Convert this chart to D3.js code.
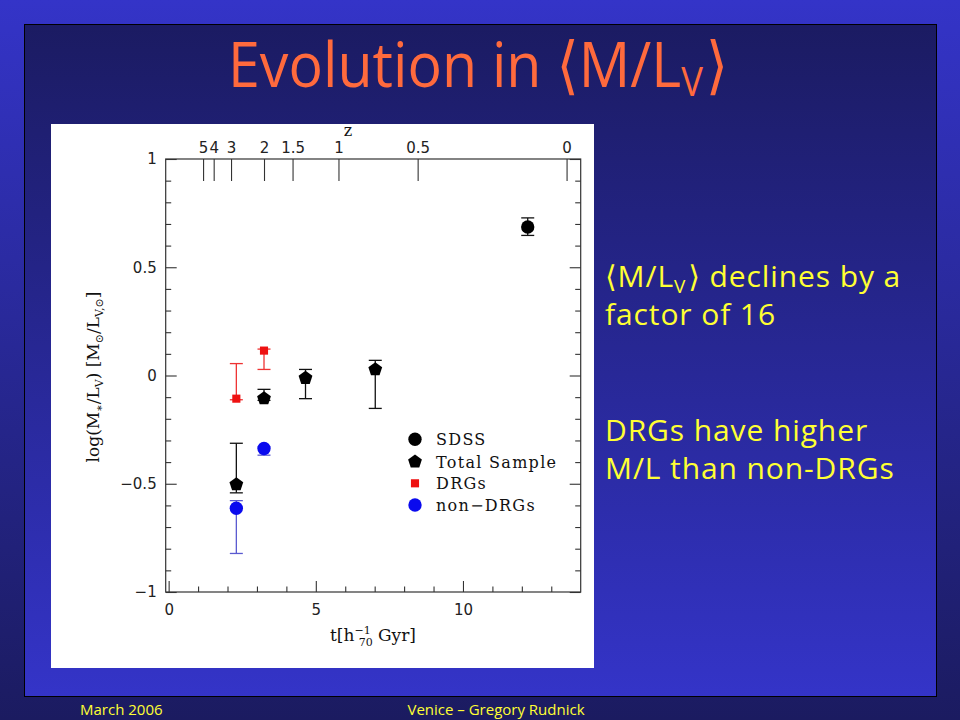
<!DOCTYPE html>
<html lang="en">
<head>
<meta charset="UTF-8">
<title>Evolution in M/L</title>
<script src="https://cdn.jsdelivr.net/npm/d3@7/dist/d3.min.js"></script>
<style>
  html, body { margin: 0; padding: 0; background: #1b1b60; }
  svg { display: block; }
  .slide { font-family: "Open Sans", "DejaVu Sans", sans-serif; }
  .tick text { font-family: "DejaVu Sans", sans-serif; font-size: 15px; fill: #222; }
  .tick line { stroke: #333; stroke-width: 1.1; }
  .domain { display: none; }
  .serif { font-family: "DejaVu Serif", serif; fill: #111; }
</style>
</head>
<body>
<svg id="chart" width="960" height="720"></svg>
<script>
// ---- data ----
// SDSS (local)
var sdssT = [12.2];
var sdssV = [0.686];
var sdssHi = [0.728];
var sdssLo = [0.647];

// total sample
var totalT = [2.30, 3.24, 4.65, 7.02];
var totalV = [-0.503, -0.106, -0.012, 0.028];
var totalHi = [-0.313, -0.064, 0.028, 0.070];
var totalLo = [-0.542, -0.115, -0.107, -0.152];

// DRGs
var drgT = [2.30, 3.24];
var drgV = [-0.107, 0.115];
var drgHi = [0.055, 0.122];
var drgLo = [-0.112, 0.028];

// non-DRGs
var nonT = [2.30, 3.24];
var nonV = [-0.613, -0.337];
var nonHi = [-0.578, -0.330];
var nonLo = [-0.822, -0.368];

// redshift axis (top): z and cosmic age in Gyr
var zLabels = ["5", "4", "3", "2", "1.5", "1", "0.5", "0"];
var zAges = [1.17, 1.53, 2.12, 3.24, 4.21, 5.77, 8.46, 13.52];

var xMajor = [0, 5, 10];
var xMinor = [1, 2, 3, 4, 6, 7, 8, 9, 11, 12, 13];
var yMajor = [-1, -0.5, 0, 0.5, 1];
var yMajorLabels = ["\u22121", "\u22120.5", "0", "0.5", "1"];
var yMinor = d3.range(-9, 10).filter(function (i) { return i % 5 !== 0; })
    .map(function (i) { return i / 10; });

var legendNames = ["SDSS", "Total Sample", "DRGs", "non\u2212DRGs"];

(function () {
    var svg = d3.select("#chart");
    var defs = svg.append("defs");

    var g1 = defs.append("linearGradient").attr("id", "outer")
        .attr("x1", 0).attr("y1", 0).attr("x2", 0).attr("y2", 1);
    g1.append("stop").attr("offset", "0%").attr("stop-color", "#3434c8");
    g1.append("stop").attr("offset", "100%").attr("stop-color", "#1b1b60");

    var g2 = defs.append("linearGradient").attr("id", "inner")
        .attr("x1", 0).attr("y1", 0).attr("x2", 0).attr("y2", 1);
    g2.append("stop").attr("offset", "0%").attr("stop-color", "#1b1b62");
    g2.append("stop").attr("offset", "100%").attr("stop-color", "#3434c8");

    svg.append("rect").attr("width", 960).attr("height", 720).attr("fill", "url(#outer)");
    svg.append("rect").attr("x", 24.5).attr("y", 24.5).attr("width", 912).attr("height", 672)
        .attr("fill", "url(#inner)").attr("stroke", "#000").attr("stroke-width", 1);

    // slide title
    var title = svg.append("text").attr("class", "slide")
        .attr("x", 478).attr("y", 87).attr("text-anchor", "middle")
        .attr("fill", "#ff6a3d").attr("font-size", 63)
        .attr("textLength", 500).attr("lengthAdjust", "spacingAndGlyphs");
    title.append("tspan").text("Evolution in \u27E8M/L");
    title.append("tspan").attr("font-size", 40).attr("dy", 9).text("V");
    title.append("tspan").attr("dx", 3).attr("dy", -9).text("\u27E9");

    // side notes
    var notes = svg.append("g").attr("class", "slide").attr("fill", "#ffff33")
        .attr("font-size", 30).attr("letter-spacing", 0.9);
    var n1 = notes.append("text").attr("x", 605).attr("y", 287);
    n1.append("tspan").text("\u27E8M/L");
    n1.append("tspan").attr("font-size", 19).attr("dy", 6).text("V");
    n1.append("tspan").attr("dx", 2).attr("dy", -6).text("\u27E9 declines by a");
    notes.append("text").attr("x", 605).attr("y", 325).text("factor of 16");
    notes.append("text").attr("x", 605).attr("y", 441).text("DRGs have higher");
    notes.append("text").attr("x", 605).attr("y", 479).text("M/L than non-DRGs");

    // footer
    var foot = svg.append("g").attr("class", "slide").attr("fill", "#ffff33").attr("font-size", 15);
    foot.append("text").attr("x", 80).attr("y", 715).text("March 2006");
    foot.append("text").attr("x", 496).attr("y", 715).attr("text-anchor", "middle")
        .text("Venice \u2013 Gregory Rudnick");

    // white figure panel
    svg.append("rect").attr("x", 51).attr("y", 124).attr("width", 543).attr("height", 544)
        .attr("fill", "#fff");

    var x = d3.scaleLinear().domain([-0.1, 14.0]).range([165.7, 580.7]);
    var y = d3.scaleLinear().domain([-1, 1]).range([592, 159]);

    // ---- axes ----
    svg.append("g").attr("transform", "translate(0," + y(-1) + ")")
        .call(d3.axisBottom(x).tickValues(xMajor).tickSize(-11).tickPadding(12));
    svg.append("g").attr("transform", "translate(0," + y(-1) + ")")
        .call(d3.axisBottom(x).tickValues(xMinor).tickSize(-5.5).tickFormat(""));

    svg.append("g").attr("transform", "translate(" + x(-0.1) + ",0)")
        .call(d3.axisLeft(y).tickValues(yMajor).tickSize(-11).tickPadding(9)
            .tickFormat(function (d, i) { return yMajorLabels[i]; }));
    svg.append("g").attr("transform", "translate(" + x(-0.1) + ",0)")
        .call(d3.axisLeft(y).tickValues(yMinor).tickSize(-5.5).tickFormat(""));
    svg.append("g").attr("transform", "translate(" + x(14) + ",0)")
        .call(d3.axisRight(y).tickValues(yMajor).tickSize(-11).tickFormat(""));
    svg.append("g").attr("transform", "translate(" + x(14) + ",0)")
        .call(d3.axisRight(y).tickValues(yMinor).tickSize(-5.5).tickFormat(""));

    svg.append("g").attr("transform", "translate(0," + y(1) + ")")
        .call(d3.axisTop(x).tickValues(zAges).tickSize(-22).tickPadding(6)
            .tickFormat(function (d, i) { return zLabels[i]; }));

    svg.append("rect")
        .attr("x", x(-0.1)).attr("y", y(1))
        .attr("width", x(14) - x(-0.1)).attr("height", y(-1) - y(1))
        .attr("fill", "none").attr("stroke", "#333").attr("stroke-width", 1.2);

    // axis titles
    svg.append("text").attr("class", "serif").attr("x", 348).attr("y", 136)
        .attr("text-anchor", "middle").attr("font-size", 16).text("z");

    var xt = svg.append("text").attr("class", "serif").attr("x", 373).attr("y", 641)
        .attr("text-anchor", "middle").attr("font-size", 17);
    xt.append("tspan").text("t[h");
    xt.append("tspan").attr("font-size", 11).attr("dy", -7).text("\u22121");
    xt.append("tspan").attr("font-size", 11).attr("dx", -12).attr("dy", 12).text("70");
    xt.append("tspan").attr("dy", -5).text(" Gyr]");

    var yt = svg.append("text").attr("class", "serif")
        .attr("transform", "translate(99,377) rotate(-90)")
        .attr("text-anchor", "middle").attr("font-size", 17);
    yt.append("tspan").text("log(M");
    yt.append("tspan").attr("font-size", 11).attr("dy", 4).text("\u2217");
    yt.append("tspan").attr("dy", -4).text("/L");
    yt.append("tspan").attr("font-size", 11).attr("dy", 4).text("V");
    yt.append("tspan").attr("dy", -4).text(")  [M");
    yt.append("tspan").attr("font-size", 11).attr("dy", 4).text("\u2299");
    yt.append("tspan").attr("dy", -4).text("/L");
    yt.append("tspan").attr("font-size", 11).attr("dy", 4).text("V,\u2299");
    yt.append("tspan").attr("dy", -4).text("]");

    // ---- marks ----
    var pentagon = {
        draw: function (ctx, size) {
            var r = Math.sqrt(size / (2.5 * Math.sin(2 * Math.PI / 5)));
            for (var i = 0; i < 5; i++) {
                var a = -Math.PI / 2 + i * 2 * Math.PI / 5;
                if (i === 0) ctx.moveTo(r * Math.cos(a), r * Math.sin(a));
                else ctx.lineTo(r * Math.cos(a), r * Math.sin(a));
            }
            ctx.closePath();
        }
    };

    var series = [
        { t: sdssT, v: sdssV, hi: sdssHi, lo: sdssLo, type: d3.symbolCircle, size: 140, fill: "#000", err: "#111" },
        { t: totalT, v: totalV, hi: totalHi, lo: totalLo, type: pentagon, size: 125, fill: "#000", err: "#111" },
        { t: drgT, v: drgV, hi: drgHi, lo: drgLo, type: d3.symbolSquare, size: 66, fill: "#ee1111", err: "#e33" },
        { t: nonT, v: nonV, hi: nonHi, lo: nonLo, type: d3.symbolCircle, size: 140, fill: "#0a0aee", err: "#5a5ad0" }
    ];

    series.forEach(function (s) {
        var idx = d3.range(s.t.length);
        var eg = svg.append("g").attr("stroke", s.err).attr("stroke-width", 1.3);
        eg.selectAll("line.bar").data(idx).enter().append("line")
            .attr("x1", function (i) { return x(s.t[i]); })
            .attr("x2", function (i) { return x(s.t[i]); })
            .attr("y1", function (i) { return y(s.lo[i]); })
            .attr("y2", function (i) { return y(s.hi[i]); });
        ["lo", "hi"].forEach(function (k) {
            eg.selectAll("line.cap" + k).data(idx).enter().append("line")
                .attr("x1", function (i) { return x(s.t[i]) - 6.5; })
                .attr("x2", function (i) { return x(s.t[i]) + 6.5; })
                .attr("y1", function (i) { return y(s[k][i]); })
                .attr("y2", function (i) { return y(s[k][i]); });
        });
        svg.append("g").selectAll("path").data(idx).enter().append("path")
            .attr("transform", function (i) { return "translate(" + x(s.t[i]) + "," + y(s.v[i]) + ")"; })
            .attr("d", d3.symbol().type(s.type).size(s.size))
            .attr("fill", s.fill);
    });

    // legend
    var legendY = [439.3, 461.7, 483.3, 505];
    var lg = svg.append("g");
    var items = lg.selectAll("g").data(series).enter().append("g")
        .attr("transform", function (d, i) { return "translate(415," + legendY[i] + ")"; });
    items.append("path")
        .attr("d", function (d) { return d3.symbol().type(d.type).size(d.size)(); })
        .attr("fill", function (d) { return d.fill; });
    items.append("text").attr("class", "serif")
        .attr("x", 21).attr("y", 6).attr("font-size", 16).attr("letter-spacing", 1.3)
        .text(function (d, i) { return legendNames[i]; });
})();
</script>
</body>
</html>
